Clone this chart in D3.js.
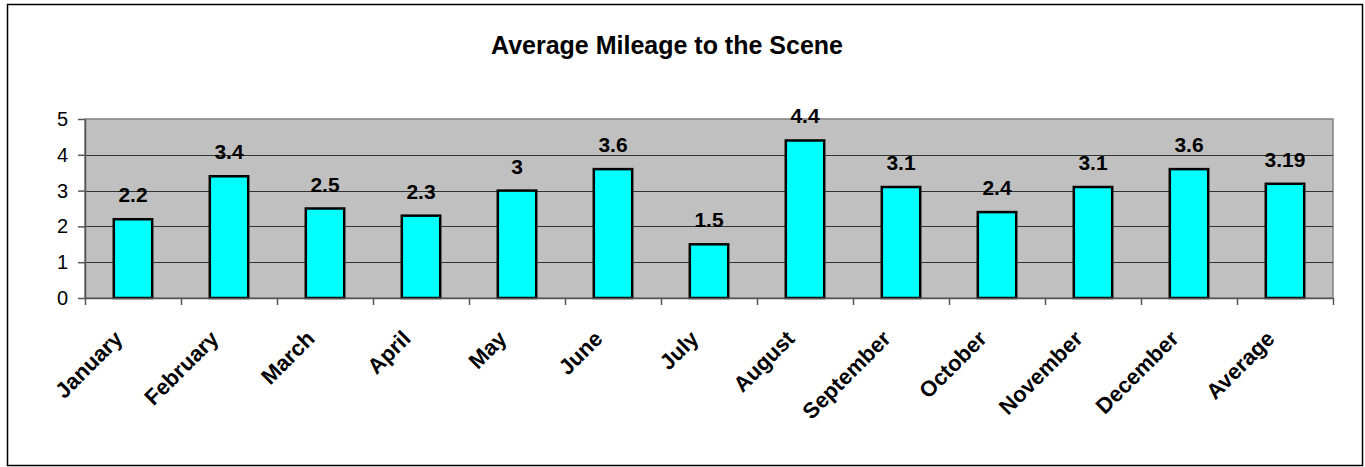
<!DOCTYPE html>
<html>
<head>
<meta charset="utf-8">
<script src="https://cdn.jsdelivr.net/npm/d3@7"></script>
<style>
  body { margin: 0; background: #fff; }
  text { font-family: "Liberation Sans", Arial, sans-serif; }
</style>
</head>
<body>
<svg width="1365" height="467"></svg>
<script>
const months = ["January", "February", "March", "April", "May", "June", "July",
  "August", "September", "October", "November", "December", "Average"];
const mileage = [2.2, 3.4, 2.5, 2.3, 3, 3.6, 1.5, 4.4, 3.1, 2.4, 3.1, 3.6, 3.19];
const yTicks = [0, 1, 2, 3, 4, 5];

var svg = d3.select("svg");
var plotLeft = 85, plotRight = 1333, plotTop = 119, plotBottom = 298;

// outer frame
svg.append("rect")
  .attr("x", 7.5).attr("y", 4.5)
  .attr("width", 1355).attr("height", 461)
  .attr("fill", "#fff").attr("stroke", "#000").attr("stroke-width", 1.5);

svg.append("text")
  .attr("x", 667).attr("y", 54)
  .attr("text-anchor", "middle")
  .style("font-size", "25px").style("font-weight", "bold")
  .text("Average Mileage to the Scene");

var x = d3.scaleBand().domain(months).range([plotLeft, plotRight]).paddingInner(0.6).paddingOuter(0.3);
var xTick = d3.scaleLinear().domain([0, months.length]).range([plotLeft, plotRight]);
var y = d3.scaleLinear().domain([0, 5]).range([plotBottom, plotTop]);

svg.append("rect")
  .attr("x", plotLeft).attr("y", plotTop)
  .attr("width", plotRight - plotLeft).attr("height", plotBottom - plotTop)
  .attr("fill", "#c0c0c0").attr("stroke", "#808080").attr("stroke-width", 1.5);

// gridlines
svg.append("g").selectAll("line")
  .data(yTicks.slice(1, -1))
  .enter().append("line")
  .attr("x1", plotLeft).attr("x2", plotRight)
  .attr("y1", function(d) { return Math.round(y(d)) + 0.5; })
  .attr("y2", function(d) { return Math.round(y(d)) + 0.5; })
  .attr("stroke", "#333").attr("stroke-width", 1);

svg.append("g").selectAll("rect")
  .data(mileage)
  .enter().append("rect")
  .attr("x", function(d, i) { return x(months[i]); })
  .attr("y", function(d) { return y(d); })
  .attr("width", x.bandwidth())
  .attr("height", function(d) { return plotBottom - y(d); })
  .attr("fill", "#00ffff").attr("stroke", "#000").attr("stroke-width", 2.5);

svg.append("g").selectAll("text")
  .data(mileage)
  .enter().append("text")
  .attr("x", function(d, i) { return x(months[i]) + x.bandwidth() / 2; })
  .attr("y", function(d) { return y(d) - 17; })
  .attr("text-anchor", "middle")
  .style("font-size", "21px").style("font-weight", "bold")
  .text(function(d) { return d; });

// y axis
var yAxis = svg.append("g")
  .attr("transform", "translate(" + plotLeft + ",0)")
  .call(d3.axisLeft(y).tickValues(yTicks).tickFormat(d3.format("d"))
    .tickSize(7).tickSizeOuter(0).tickPadding(10));
yAxis.selectAll("text").style("font-size", "20px").attr("fill", "#000");
yAxis.selectAll("line, path").attr("stroke", "#555").attr("stroke-width", 1.5);

// x axis ticks between categories
var xAxis = svg.append("g")
  .attr("transform", "translate(0," + plotBottom + ")")
  .call(d3.axisBottom(xTick).tickValues(d3.range(0, months.length + 1)).tickSize(7).tickSizeOuter(0).tickFormat(""));
xAxis.selectAll("line, path").attr("stroke", "#555").attr("stroke-width", 1.5);

svg.append("g").selectAll("text")
  .data(months)
  .enter().append("text")
  .attr("transform", function(d) {
    return "translate(" + (x(d) + x.bandwidth() / 2 - 9) + "," + (plotBottom + 42) + ") rotate(-45)";
  })
  .attr("text-anchor", "end")
  .style("font-size", "22px").style("font-weight", "bold")
  .text(function(d) { return d; });
</script>
</body>
</html>
